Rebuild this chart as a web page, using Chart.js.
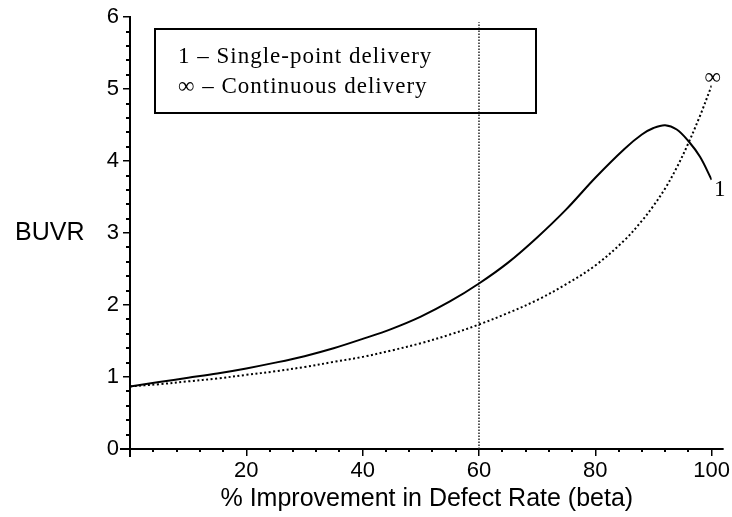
<!DOCTYPE html>
<html>
<head>
<meta charset="utf-8">
<script src="https://cdn.jsdelivr.net/npm/chart.js@4.4.1/dist/chart.umd.min.js"></script>
<style>
  html,body{margin:0;padding:0;background:#fff}
  #wrap{width:732px;height:517px}
</style>
</head>
<body>
<div id="wrap"><canvas id="buvrChart"></canvas></div>
<script>
// % improvement in defect rate (beta)
const betaPct     = [0, 5, 10, 15, 20, 25, 30, 35, 40, 45, 50, 55, 60, 65, 70, 75, 80, 85, 88, 90, 92, 94, 96, 98, 100];
// BUVR, single-point delivery (curve "1")
const singlePoint = [0.87, 0.93, 0.99, 1.05, 1.12, 1.20, 1.29, 1.40, 1.53, 1.67, 1.84, 2.05, 2.30, 2.59, 2.94, 3.33, 3.77, 4.17, 4.37, 4.46, 4.50, 4.44, 4.28, 4.06, 3.74];
// BUVR, continuous delivery (curve "∞")
const continuous  = [0.87, 0.90, 0.94, 0.98, 1.03, 1.08, 1.14, 1.21, 1.28, 1.37, 1.47, 1.59, 1.73, 1.89, 2.07, 2.29, 2.55, 2.90, 3.17, 3.38, 3.62, 3.91, 4.25, 4.63, 5.05];
// vertical reference line
const cutoffBeta  = 60;
const cutoffSpan  = [0, 5.93];

const legendLines = ['1 \u2013 Single-point delivery', '\u221E \u2013 Continuous delivery'];
const xTitle = '% Improvement in Defect Rate (beta)';
const yTitle = 'BUVR';

const SANS  = '"Liberation Sans", Arial, sans-serif';
const SERIF = '"Liberation Serif", "Times New Roman", serif';

/* ===== axis overhang, minor ticks, titles, legend box ===== */
const maplePlugin = {
  id: 'maple',
  afterDraw(chart){
    const {ctx, chartArea: a, scales: {x, y}} = chart;
    const x0 = Math.round(x.getPixelForValue(0)), y0 = Math.round(y.getPixelForValue(0));
    ctx.save();
    ctx.setLineDash([]);
    ctx.fillStyle = '#000'; ctx.strokeStyle = '#000';

    // axes stick out a little past the origin and the right end
    ctx.fillRect(x0 - 10, y0 - 1, 10, 2);
    ctx.fillRect(a.right, y0 - 1, 12, 2);
    ctx.fillRect(x0 - 1, y0, 2, 8);

    // minor ticks
    for (let v = 4; v < 100; v += 4){
      if (v % 20 === 0) continue;
      const px = Math.round(x.getPixelForValue(v));
      ctx.fillRect(px - 1, y0, 2, 3);
    }
    for (let i = 1; i < 30; i++){
      if (i % 5 === 0) continue;
      const py = Math.round(y.getPixelForValue(i / 5));
      ctx.fillRect(x0 - 4, py - 1, 4, 2);
    }

    // axis titles
    ctx.font = '25px ' + SANS;
    ctx.textBaseline = 'alphabetic';
    ctx.textAlign = 'left';
    ctx.fillText(yTitle, 15, 240);
    ctx.textAlign = 'center';
    ctx.fillText(xTitle, (a.left + a.right) / 2 + 6, 506);

    // legend box
    ctx.lineWidth = 2;
    ctx.strokeRect(155, 29, 381, 84);
    ctx.font = '23px ' + SERIF;
    ctx.letterSpacing = '1px';
    ctx.textAlign = 'left';
    ctx.fillText(legendLines[0], 178, 63);
    ctx.fillText(legendLines[1], 178, 93);

    // curve end labels
    const n = betaPct.length - 1;
    const ex = x.getPixelForValue(betaPct[n]);
    ctx.letterSpacing = '0px';
    ctx.textAlign = 'center';
    ctx.fillText('\u221E', ex + 1, y.getPixelForValue(continuous[n]) - 2);
    ctx.fillText('1', ex + 8, y.getPixelForValue(singlePoint[n]) + 16);
    ctx.restore();
  }
};

const pts = ys => betaPct.map((b, i) => ({x: b, y: ys[i]}));

new Chart(document.getElementById('buvrChart').getContext('2d'), {
  type: 'line',
  data: {
    datasets: [
      {data: pts(singlePoint), borderColor: '#000', borderWidth: 2, pointRadius: 0, tension: 0.35},
      {data: pts(continuous), borderColor: '#000', borderWidth: 2, borderDash: [2, 2.5], pointRadius: 0, tension: 0.35},
      {data: cutoffSpan.map(v => ({x: cutoffBeta, y: v})), borderColor: '#222', borderWidth: 1.5, borderDash: [1.5, 1.5], pointRadius: 0}
    ]
  },
  options: {
    responsive: true, maintainAspectRatio: false, animation: false,
    layout: {padding: {top: 15, right: 17, left: 0, bottom: 0}},
    plugins: {legend: {display: false}, tooltip: {enabled: false}},
    scales: {
      x: {
        type: 'linear', min: 0, max: 100,
        border: {display: true, color: '#000', width: 2},
        grid: {drawOnChartArea: false, tickLength: 7, color: '#000', lineWidth: 1.5},
        ticks: {stepSize: 20, maxRotation: 0, padding: 2, color: '#000',
                font: {family: SANS, size: 22}, callback: v => v === 0 ? '' : v},
        afterFit: s => { s.height = 68; }
      },
      y: {
        min: 0, max: 6,
        border: {display: true, color: '#000', width: 2},
        grid: {drawOnChartArea: false, tickLength: 7, color: '#000', lineWidth: 1.5},
        ticks: {stepSize: 1, padding: 4, color: '#000', font: {family: SANS, size: 22}},
        afterFit: s => { s.width = 130; }
      }
    }
  },
  plugins: [maplePlugin]
});
</script>
</body>
</html>
